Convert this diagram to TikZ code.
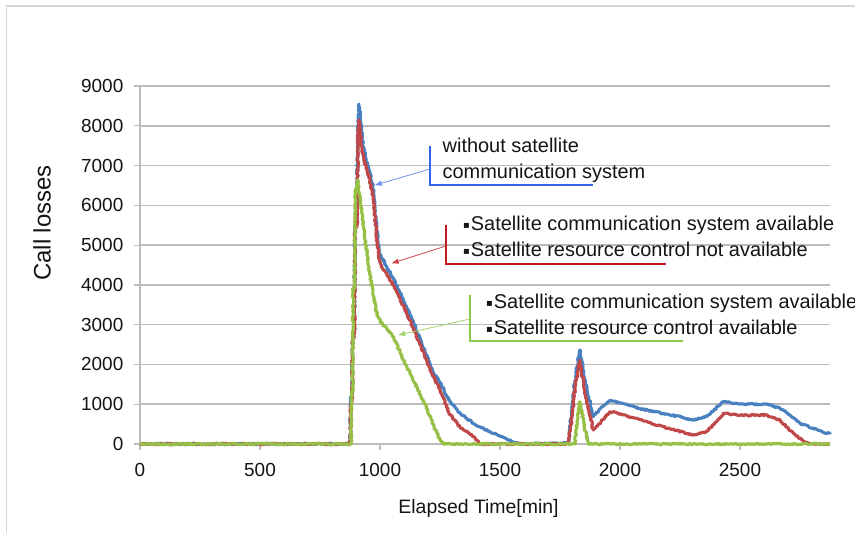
\documentclass[tikz,border=0pt]{standalone}
\usepackage{fontspec}
\setmainfont{Liberation Sans}
\newfontfamily\squarefont{DejaVu Sans}
\usetikzlibrary{arrows.meta,calc,decorations.pathmorphing}
\definecolor{ink}{RGB}{20,20,20}
\definecolor{rule}{RGB}{188,188,188}
\definecolor{frame}{RGB}{215,215,215}
\definecolor{bluecurve}{RGB}{72,128,192}
\definecolor{redcurve}{RGB}{192,72,72}
\definecolor{greencurve}{RGB}{150,192,70}
\definecolor{bluemark}{RGB}{50,100,235}
\definecolor{redmark}{RGB}{195,25,30}
\definecolor{greenmark}{RGB}{140,200,75}
\newcommand{\sqbullet}{\raisebox{2bp}{\squarefont\fontsize{10}{10}\selectfont ▪}\hspace{1bp}}
\tikzset{
  every picture/.style={x=1bp, y=-1bp, color=ink},
  grid/.style={draw=rule, line width=1.5bp},
  axisline/.style={draw=rule, line width=1.2bp},
  ylbl/.style={font=\fontsize{19}{19}\selectfont, inner sep=0pt, left=16.5bp},
  xlbl/.style={font=\fontsize{19}{19}\selectfont, inner sep=0pt, below=19bp},
  series/.style={line width=3.1bp, line join=round, decorate,
    decoration={random steps, segment length=1.3bp, amplitude=0.8bp}},
  note/.style={font=\fontsize{20}{26}\selectfont, align=left, anchor=north west, inner sep=0pt},
  bracket/.style={line width=1.8bp},
  pointer/.style={-{Triangle[length=7bp,width=5bp]}, line width=0.8bp},
}

\begin{document}
\begin{tikzpicture}
  \pgfmathsetseed{7}
  \useasboundingbox (0,0) rectangle (855,533);
  \fill[white] (0,0) rectangle (855,533);
  \draw[frame, line width=1.2bp] (6.5,533) -- (6.5,6) -- (855,6);

  % plot area: minutes across, call losses up
  \begin{scope}[shift={(140,444)}, x=0.24bp, y=0.03978bp]
    \foreach \v in {1000,2000,...,9000}
      \draw[grid] (0,\v) -- (2875,\v);
    \draw[axisline] (0,0) -- (0,9000);
    \draw[axisline] (0,0) -- (2875,0);
    \foreach \v in {0,1000,...,9000} {
      \draw[axisline] (0,\v) -- ++(-6bp,0bp);
      \node[ylbl] (y\v) at (0,\v) {\v};
    }
    \foreach \t in {0,500,...,2500} {
      \draw[axisline] (\t,0) -- ++(0bp,-6bp);
      \node[xlbl] (x\t) at (\t,0) {\t};
    }

    \draw[series, draw=bluecurve] plot coordinates {(0,0) (876,0) (878,1150) (884,1250) (886,2700) (893,2800) (896,5500) (904,5650) (908,8000) (913,8550) (918,8200) (926,7700) (940,7200) (955,6900) (972,6400) (985,5500) (995,4900) (1005,4700) (1020,4550) (1060,4100) (1111,3450) (1160,2750) (1222,1800) (1250,1550) (1292,1060) (1340,730) (1389,520) (1458,310) (1520,150) (1570,20) (1600,0) (1785,20) (1800,900) (1815,1700) (1833,2360) (1850,1750) (1870,1150) (1889,690) (1920,900) (1958,1100) (2000,1030) (2097,870) (2200,750) (2305,600) (2361,690) (2400,900) (2430,1065) (2500,1000) (2611,1000) (2667,895) (2700,750) (2750,520) (2800,400) (2875,250)};
    \draw[series, draw=redcurve] plot coordinates {(0,0) (876,0) (878,1000) (884,1100) (886,2600) (893,2700) (896,5400) (904,5500) (908,7800) (913,8150) (918,7800) (926,7400) (940,7000) (955,6700) (972,6200) (985,5300) (995,4700) (1005,4500) (1020,4350) (1060,3950) (1111,3300) (1160,2600) (1222,1700) (1250,1380) (1292,730) (1333,435) (1389,185) (1417,0) (1785,0) (1800,700) (1815,1500) (1833,2100) (1850,1450) (1870,850) (1889,350) (1920,550) (1958,810) (2000,760) (2097,580) (2200,400) (2305,225) (2361,310) (2400,550) (2430,770) (2500,720) (2611,730) (2667,600) (2722,270) (2760,100) (2792,0) (2875,0)};
    \draw[series, draw=greencurve] plot coordinates {(0,0) (880,0) (881,1300) (886,1300) (888,3900) (894,3900) (897,6300) (906,6650) (914,6300) (930,5500) (950,4600) (970,3800) (986,3300) (1000,3100) (1055,2700) (1111,1950) (1180,1100) (1250,100) (1265,0) (1812,0) (1822,600) (1833,1065) (1850,500) (1868,0) (2875,0)};

    \coordinate (bluetip) at (979,6510);
    \coordinate (redtip) at (1049,4545);
    \coordinate (greentip) at (1076,2740);
  \end{scope}

  \node[font=\fontsize{24}{24}\selectfont, rotate=90] (ytitle) at (42,223) {Call losses};
  \node[font=\fontsize{19.5}{20}\selectfont, anchor=base] (xtitle) at (478.5,513) {Elapsed Time[min]};

  % the three call-outs
  \node[note] (bluenote) at (442.5,137.5) {without satellite\\communication system};
  \node[note] (rednote) at (463,215.5) {\sqbullet Satellite communication system available\\\sqbullet Satellite resource control not available};
  \node[note] (greennote) at (486,293.5) {\sqbullet Satellite communication system available\\\sqbullet Satellite resource control available};

  \coordinate (bluefrom) at (430,169);
  \coordinate (redfrom) at (446,246);
  \coordinate (greenfrom) at (470,319);
  \draw[bracket, bluemark] (430,146) |- (593,185);
  \draw[bracket, redmark] (446,225) |- (666,264);
  \draw[bracket, greenmark] (470,295) |- (683,341);
  \draw[pointer, bluemark!70] (bluefrom) -- (bluetip);
  \draw[pointer, redmark!80] (redfrom) -- (redtip);
  \draw[pointer, greenmark!80] (greenfrom) -- (greentip);
\end{tikzpicture}
\end{document}
